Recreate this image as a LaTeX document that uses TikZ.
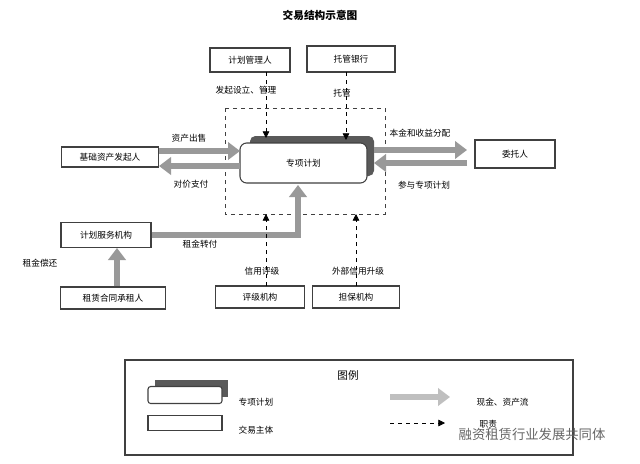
\documentclass[tikz,border=0pt]{standalone}
\usepackage{fontspec}
\setmainfont{Noto Sans CJK SC}
\usetikzlibrary{arrows.meta}
\begin{document}
\begin{tikzpicture}[x=0.75pt,y=-0.75pt,
  ent/.style={draw=black!75,line width=0.8pt,fill=white,inner sep=0pt,font=\fontsize{6.5}{7}\selectfont},
  lbl/.style={font=\fontsize{6.5}{7}\selectfont,inner sep=1pt},
  flow/.style={draw=black!40,line width=5pt,-{Triangle[length=9pt,width=13pt]}},
  duty/.style={draw=black,dashed,line width=0.6pt,-{Triangle[length=5pt,width=5pt]}}]
\useasboundingbox[fill=white] (0,0) rectangle (640,464);
\node[font=\bfseries\fontsize{8}{9}\selectfont] (title) at (320,15) {交易结构示意图};
% dashed region
\draw[dashed,black!75,line width=0.6pt] (225,108) rectangle (385,214);
% entities
\node[ent,minimum width=80*0.75pt,minimum height=24*0.75pt] (mgr) at (250,60) {计划管理人};
\node[ent,minimum width=88*0.75pt,minimum height=26*0.75pt] (bank) at (351,59) {托管银行};
\node[ent,minimum width=97*0.75pt,minimum height=20*0.75pt] (orig) at (110,157) {基础资产发起人};
\node[ent,minimum width=80*0.75pt,minimum height=28*0.75pt] (inv) at (515,154) {委托人};
\node[ent,minimum width=90*0.75pt,minimum height=25*0.75pt] (svc) at (106,235) {计划服务机构};
\node[ent,minimum width=105*0.75pt,minimum height=22*0.75pt] (lessee) at (113,298) {租赁合同承租人};
\node[ent,minimum width=89*0.75pt,minimum height=22*0.75pt] (rate) at (260,297) {评级机构};
\node[ent,minimum width=87*0.75pt,minimum height=22*0.75pt] (guar) at (356,297) {担保机构};
% special plan
\fill[black!65,rounded corners=4pt] (250,136) rectangle (374,176);
\node[ent,rounded corners=5pt,minimum width=127*0.75pt,minimum height=40*0.75pt] (plan) at (303.5,163) {专项计划};
% flows
\draw[flow] (orig.east|-0,151) -- (240,151);
\draw[flow] (240,166) -- (orig.east|-0,166);
\draw[flow] (374,150) -- (467,150);
\draw[flow] (467,163) -- (374,163);
\draw[flow] (svc.east) -- (298,235) -- (298,185);
\draw[flow] (lessee.north-|117,0) -- (117,248);
% duties
\draw[duty] (266,72) -- (266,138);
\draw[duty] (346,72) -- (346,140);
\draw[duty] (266,286) -- (266,214);
\draw[duty] (356,286) -- (356,214);
% labels
\node[lbl] (l1) at (246,90) {发起设立、管理};
\node[lbl] (l2) at (342,93) {托管};
\node[lbl] (l3) at (189,138) {资产出售};
\node[lbl] (l4) at (191,184) {对价支付};
\node[lbl] (l5) at (420,133) {本金和收益分配};
\node[lbl] (l6) at (424,185) {参与专项计划};
\node[lbl] (l7) at (200,244) {租金转付};
\node[lbl] (l8) at (40,263) {租金偿还};
\node[lbl] (l9) at (262,271) {信用评级};
\node[lbl] (l10) at (358,271) {外部信用升级};
% legend
\draw[black!75,line width=0.8pt] (125,360) rectangle (573,455);
\node[font=\fontsize{8}{9}\selectfont] (lg) at (348,375) {图例};
\fill[black!65] (155,380) rectangle (228,397);
\node[ent,rounded corners=2pt,minimum width=74*0.75pt,minimum height=17*0.75pt] (lp) at (185,395) {};
\node[lbl,anchor=west] (lpt) at (237,402) {专项计划};
\node[ent,minimum width=74*0.75pt,minimum height=15*0.75pt] (le) at (185,423) {};
\node[lbl,anchor=west] (let) at (237,430) {交易主体};
\coordinate (a1) at (390,397); \coordinate (a2) at (450,397);
\draw[flow,draw=black!25] (a1) -- (a2);
\node[lbl,anchor=west] (lf) at (475,402) {现金、资产流};
\coordinate (b1) at (390,423); \coordinate (b2) at (445,423);
\draw[duty] (b1) -- (b2);
\node[lbl,anchor=west] (ld) at (478,424) {职责};
\node[font=\fontsize{10}{11}\selectfont,text=black!60] (wm) at (532,434) {融资租赁行业发展共同体};
\end{tikzpicture}
\end{document}
